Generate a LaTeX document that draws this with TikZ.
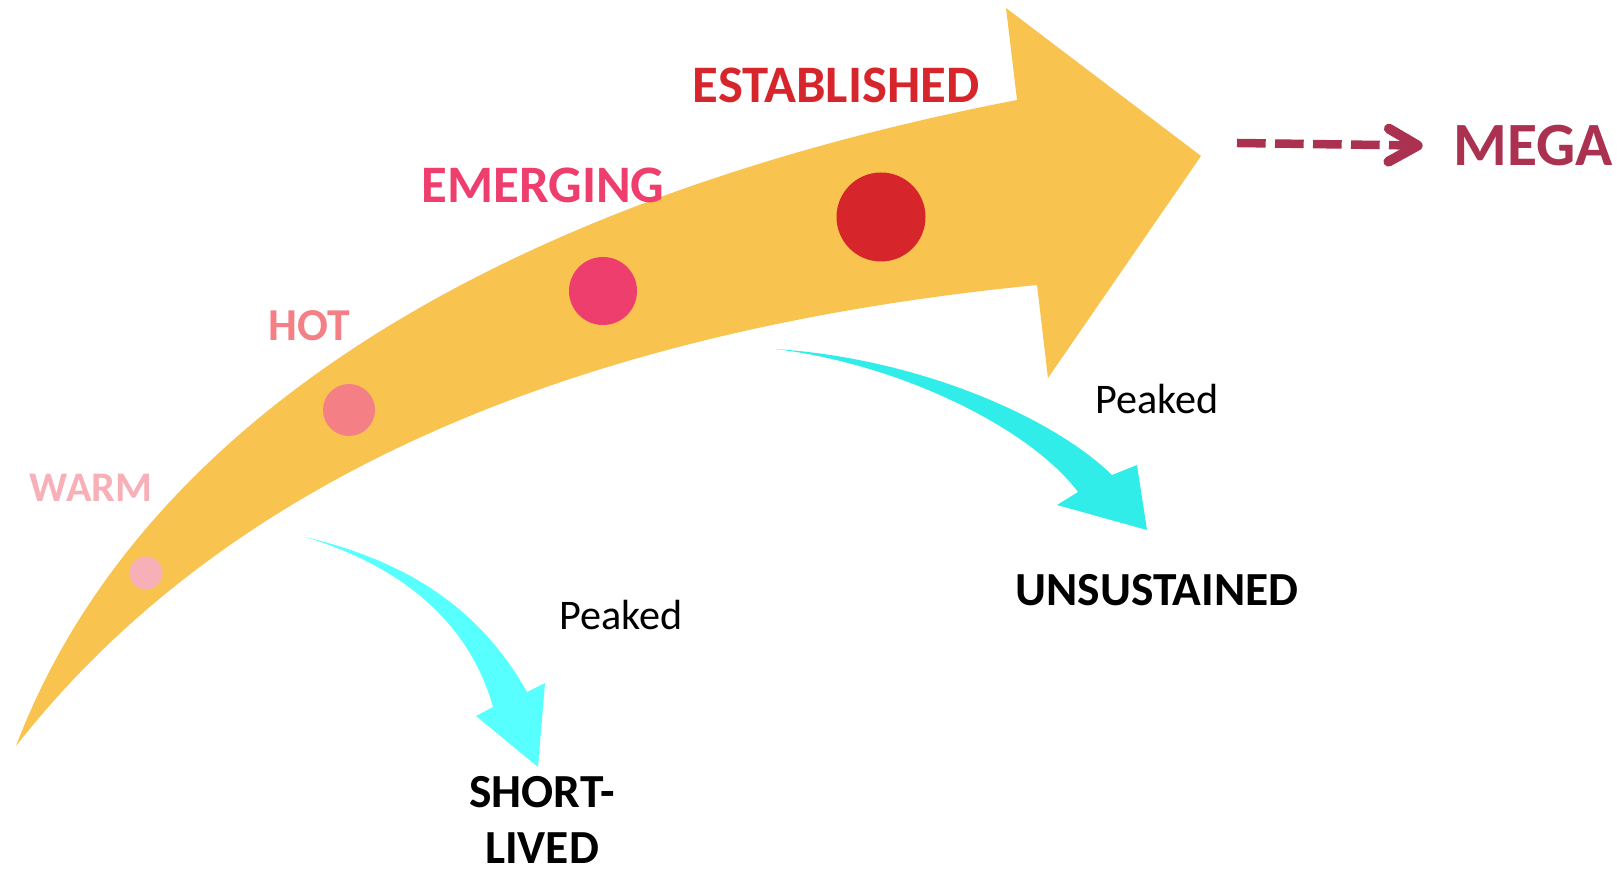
\documentclass[tikz,border=0pt]{standalone}
\usepackage{fontspec}
\setmainfont{Carlito}
\usetikzlibrary{arrows.meta}
\definecolor{bandorange}{HTML}{F9C34F}
\definecolor{warmpink}{HTML}{F8B0B8}
\definecolor{hotpink}{HTML}{F48086}
\definecolor{emergingpink}{HTML}{EE3E6E}
\definecolor{establishedred}{HTML}{D6262C}
\definecolor{megared}{HTML}{AA3150}
\definecolor{peakcyanA}{HTML}{57FFFF}
\definecolor{peakcyanB}{HTML}{31EDE9}
\begin{document}
\begin{tikzpicture}[x=0.1mm, y=-0.1mm,
  stage/.style={font=\bfseries\fontsize{#1}{#1}\selectfont, inner sep=0pt, anchor=base},
  peak/.style={font=\fontsize{12}{14}\selectfont, inner sep=0pt, anchor=base},
  dot/.style={circle, inner sep=0pt, minimum size=#1}]
  %[every node/.style={draw=black}]
  \useasboundingbox (0,0) rectangle (1624,872);
  \fill[bandorange] (16,746) .. controls (140,420) and (500,200) .. (1017,100) -- (1006,8) -- (1201,156) -- (1048,378) -- (1037,285) .. controls (560,332) and (220,486) .. (16,746) -- cycle;
  \fill[peakcyanA] (305,537) .. controls (415,563) and (483,614) .. (527,692) -- (545,683) -- (538,767) -- (476,716) -- (493,707) .. controls (470,625) and (405,567) .. (305,537) -- cycle;
  \fill[peakcyanB] (775,349) .. controls (915,358) and (1050,415) .. (1112,475) -- (1137,465) -- (1147,530) -- (1057,505) -- (1078,492) .. controls (1030,428) and (900,364) .. (775,349) -- cycle;

  \node[dot=3.3mm, fill=warmpink] (warmdot) at (146,573) {};
  \node[dot=5.2mm, fill=hotpink] (hotdot) at (349,410) {};
  \node[dot=6.8mm, fill=emergingpink] (emergingdot) at (603,291) {};
  \node[dot=8.9mm, fill=establishedred] (establisheddot) at (881,217) {};

  \node[stage=12, text=warmpink] (warm) at (91,502) {WARM};
  \node[stage=13, text=hotpink] (hot) at (309,341) {HOT};
  \node[stage=15, text=emergingpink] (emerging) at (543,203) {EMERGING};
  \node[stage=15, text=establishedred] (established) at (836,103) {ESTABLISHED};
  \node[stage=17.5, text=megared] (mega) at (1533,166) {MEGA};

  \node[peak] (peakedhigh) at (1157,414) {Peaked};
  \node[peak] (peakedlow) at (621,630) {Peaked};
  \node[stage=13.5] (unsustained) at (1157,606) {UNSUSTAINED};
  \node[font=\bfseries\fontsize{13.5}{16}\selectfont, inner sep=0pt, align=center] (shortlived) at (542,820) {SHORT-\\LIVED};

  \coordinate (megastart) at (1237,143);
  \draw[megared, line width=0.85mm, dash pattern=on 2.87mm off 0.93mm, -{Straight Barb[length=2.9mm, width=3.3mm, round, line width=1mm]}, shorten >=3mm] (megastart) -- (mega.west);
\end{tikzpicture}
\end{document}
